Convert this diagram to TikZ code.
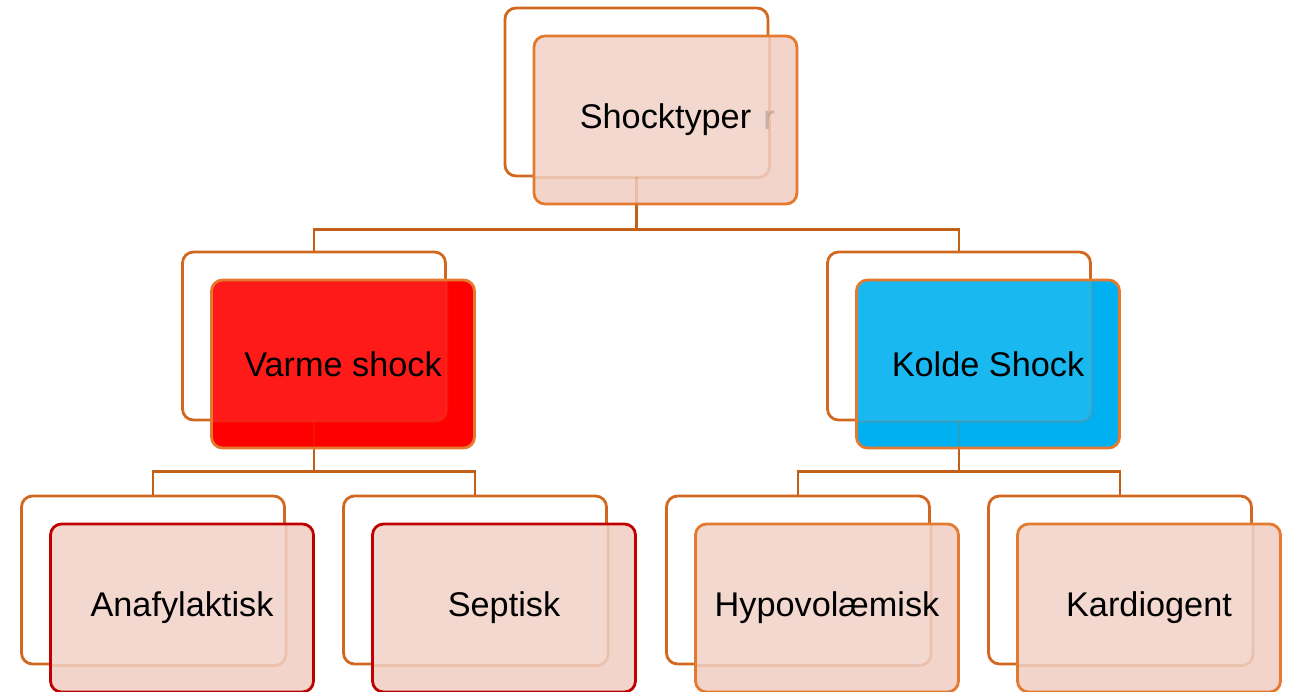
\documentclass[tikz,border=0pt]{standalone}
\usepackage{fontspec}
\setmainfont{Liberation Sans}
\usetikzlibrary{positioning}
\definecolor{backedge}{HTML}{D0691F}
\definecolor{frontedge}{HTML}{E47A30}
\definecolor{linkcol}{HTML}{C2601A}
\definecolor{pinkfill}{HTML}{F2D4CB}
\definecolor{bluefill}{HTML}{00B0F0}
\definecolor{redfill}{HTML}{FF0000}
\definecolor{darkred}{HTML}{C00000}

\begin{document}
\begin{tikzpicture}
		\tikzset{
			backbox/.style = {draw=backedge, fill=white, rectangle, rounded corners=0.22cm, line width=1.6pt,
			                  minimum width=5.26cm, minimum height=3.36cm, inner sep=0pt},
			ghost/.style = {draw=backedge, fill=white, rounded corners=0.22cm, line width=1.6pt,
			                fill opacity=0.1, draw opacity=0.18},
			% front box lies below right of its frame, the frame shows through
			frontbox/.style = {draw=frontedge, fill=pinkfill, rectangle, rounded corners=0.22cm, line width=1.6pt,
			                   minimum width=5.26cm, minimum height=3.36cm, inner sep=0pt,
			                   font=\fontsize{19.5}{23}\selectfont,
			                   below right=0.56cm and 0.58cm of #1.center, anchor=center,
			                   path picture={\draw[ghost] (#1.south west) rectangle (#1.north east);}},
			link/.style = {draw=linkcol, line width=1.6pt},
		}
		\useasboundingbox (0,0) rectangle (25.78,-13.82);

		%back frames
		\node (topb) [backbox] at (12.73,-1.84) {};
		\node (warmb) [backbox] at (6.28,-6.72) {};
		\node (coldb) [backbox] at (19.18,-6.72) {};
		\node (anab) [backbox] at (3.06,-11.6) {};
		\node (sepb) [backbox] at (9.5,-11.6) {};
		\node (hypob) [backbox] at (15.96,-11.6) {};
		\node (kardb) [backbox] at (22.4,-11.6) {};

		%connectors
		\path[link] (topb.south) -- ++(0,-1.04) -| (warmb.north)
					(topb.south) -- ++(0,-1.04) -| (coldb.north)
					(warmb.south) -- ++(0,-1.0) -| (anab.north)
					(warmb.south) -- ++(0,-1.0) -| (sepb.north)
					(coldb.south) -- ++(0,-1.0) -| (hypob.north)
					(coldb.south) -- ++(0,-1.0) -| (kardb.north);

		%front boxes
		\node (top) [frontbox=topb] {Shocktyper};
		\node (warm) [frontbox=warmb, fill=redfill] {Varme shock};
		\node (cold) [frontbox=coldb, fill=bluefill] {Kolde Shock};
		\node (ana) [frontbox=anab, draw=darkred] {Anafylaktisk};
		\node (sep) [frontbox=sepb, draw=darkred] {Septisk};
		\node (hypo) [frontbox=hypob] {Hypovolæmisk};
		\node (kard) [frontbox=kardb] {Kardiogent};

		%connectors seen through
		\foreach \n in {top,warm,cold}
			\draw[link, draw opacity=0.2] (\n b.south) -- (\n b.south |- \n.south);

		\node (ghostr) [text=black, text opacity=0.18, font=\fontsize{19.5}{23}\selectfont] at (15.38,-2.4) {r};
	\end{tikzpicture}
\end{document}
